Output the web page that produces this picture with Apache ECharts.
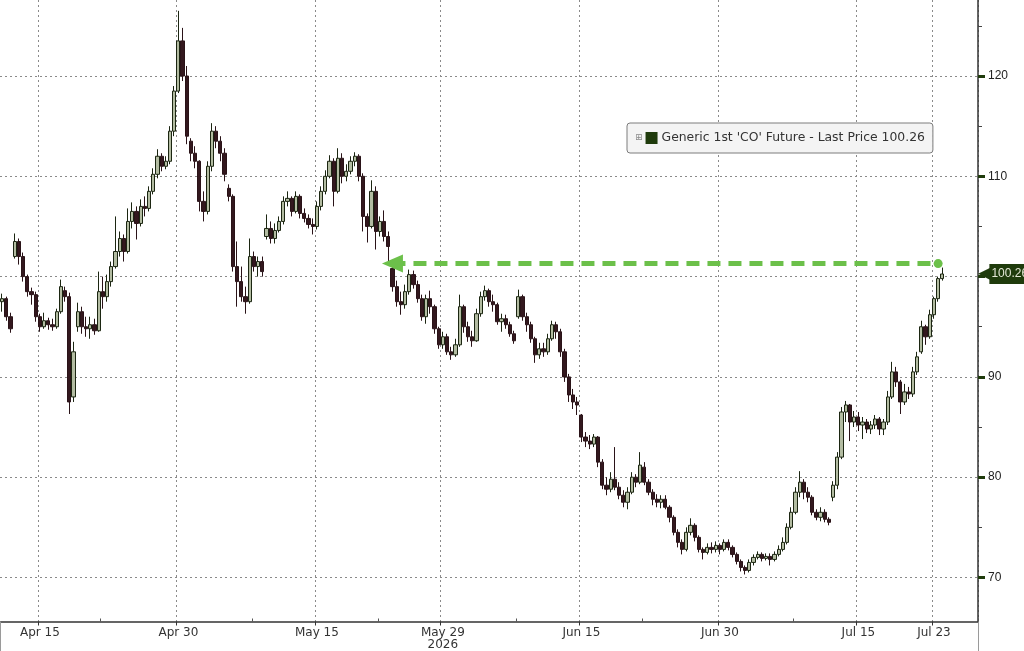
<!DOCTYPE html>
<html><head><meta charset="utf-8">
<script src="https://cdn.jsdelivr.net/npm/echarts@6/dist/echarts.min.js"></script>
<style>html,body{margin:0;padding:0;background:#fff}#c{width:1024px;height:651px}</style>
</head><body><div id="c"></div>
<script>
const seriesName = "Generic 1st 'CO' Future";
const aprDays = ['2026-04-10','2026-04-13','2026-04-14','2026-04-15','2026-04-16','2026-04-17','2026-04-20','2026-04-21','2026-04-22','2026-04-23','2026-04-24','2026-04-27','2026-04-28','2026-04-29','2026-04-30'];
const mayDays = ['2026-05-01','2026-05-04','2026-05-05','2026-05-06','2026-05-07','2026-05-08','2026-05-11','2026-05-12','2026-05-13','2026-05-14','2026-05-15','2026-05-18','2026-05-19','2026-05-20','2026-05-21','2026-05-22','2026-05-25','2026-05-26','2026-05-27','2026-05-28','2026-05-29'];
const junDays = ['2026-06-01','2026-06-02','2026-06-03','2026-06-04','2026-06-05','2026-06-08','2026-06-09','2026-06-10','2026-06-11','2026-06-12','2026-06-15','2026-06-16','2026-06-17','2026-06-18','2026-06-19','2026-06-22','2026-06-23','2026-06-24','2026-06-25','2026-06-26','2026-06-29','2026-06-30'];
const julDays = ['2026-07-01','2026-07-02','2026-07-03','2026-07-06','2026-07-07','2026-07-08','2026-07-09','2026-07-10','2026-07-13','2026-07-14','2026-07-15','2026-07-16','2026-07-17','2026-07-20','2026-07-21','2026-07-22','2026-07-23'];

// candles: [open, close, low, high], three per trading day
const aprBars = [
[97.5,97.8,96.5,98.3],[97.8,96,95.6,98],[96,94.8,94.4,96.4],
[102,103.5,101.8,104.3],[103.5,102,101.2,103.8],[102,100,99.5,102.4],
[100,98.5,98,100.2],[98.5,98.2,97.2,98.9],[98.2,96,95.5,98.5],
[96,95,94.5,96.3],[95,95.6,94.8,96.4],[95.6,95.2,94.7,95.9],
[95.2,95,94.6,95.8],[95,96.5,94.8,96.8],[96.5,99,96.3,99.7],
[98.6,98,97.5,99],[98,87.5,86.3,98.4],[88,92.5,87.5,93.5],
[95,96.5,94.5,97.4],[96.5,95,94.3,97],[95,94.8,94,96],
[94.8,95.2,93.8,96],[95.2,94.6,94.2,95.8],[94.6,98.5,94.5,100.5],
[98.5,98,96.8,100],[98,99.5,97.5,100.2],[99.5,101,99,101.5],
[101,102.5,100.8,106],[102.5,103.8,102,104.5],[103.8,102.5,101.5,104.2],
[102.5,105.5,102.3,106.8],[105.5,106.5,104.8,107.4],[106.5,105.3,103.7,107],
[105.3,107,105,107.7],[107,106.8,106,108],[106.8,108.5,106.5,109],
[108.5,110.2,108.2,110.8],[110.2,112,109.8,112.7],[112,111,110.5,112.3],
[111,111.5,110.7,112],[111.5,114.5,111.2,115],[114.5,118.5,114,119],
[118.5,123.5,118.3,126.5],[123.5,120,119.5,124.8],[120,114,113.2,121]
];
const mayBars = [
[113.5,112.3,111.5,113.8],[112.3,111.5,110.8,113],[111.5,107.5,106.5,111.6],
[107.5,106.5,105.5,108.5],[106.5,111,106.2,111.5],[111,114.5,110.5,115.3],
[114.5,113.5,112.8,115],[113.5,112.3,111.5,114],[112.3,110.2,109.5,112.8],
[108.8,108,107.5,109.2],[108,101,100.5,108.2],[101,99.5,97,103.5],
[99.5,98,97.5,101],[98,97.5,96.3,99],[97.5,102,97.3,103.8],
[102,101,100.5,102.5],[101,101.5,100,102],[101.5,100.5,100,102],
[104,104.8,103.7,106.2],[104.8,103.8,103.3,105.5],[103.8,104.6,103.3,105.3],
[104.6,105.5,104.4,106],[105.5,107.5,105.2,108],[107.5,107.8,107,108.5],
[107.8,106.5,106,108],[106.5,108,106.3,108.5],[108,106.3,105.8,108.2],
[106.3,105.8,105.4,106.8],[105.8,105.2,104.8,106.2],[105.2,105,104.2,105.8],
[105,107,104.7,107.5],[107,108.5,106.6,109],[108.5,110,108.2,110.6],
[110,111.5,109.8,112.1],[111.5,108.5,107,111.8],[108.5,111.8,108.3,112.8],
[111.8,110,109.3,112.3],[110,110.5,109.5,111.2],[110.5,111.5,110.2,112],
[111.5,112,111,112.4],[112,110,109.5,112.2],[110,106,104.5,110.3],
[106,105,103.4,106.3],[105,108.5,104.8,109.6],[108.5,104.5,102.7,109],
[104.5,105.5,104,106],[105.5,104,103.5,106.6],[104,103,101.5,104.5],
[100.8,99,98.5,101.2],[99,97.5,97,99.6],[97.5,97.2,96.2,98.5],
[97.2,98.5,96.8,99.2],[98.5,100.2,98.2,100.7],[100.2,99.2,98.8,100.6],
[99.2,97.8,97.4,99.6],[97.8,96,95.6,98.2],[96,97.8,95.3,98.2],
[97.8,97,96.3,98.6],[97,94.8,94.3,97.2],[94.8,93.2,92.8,95],
[93.2,94,92.8,94.5],[94,92.5,92.2,94.3],[92.5,92.2,91.7,93]
];
const junBars = [
[92.2,93.2,92,93.8],[93.2,97,93,98.2],[97,95,94.4,97.2],
[95,94,93.5,95.5],[94,93.6,93,94.6],[93.6,96.3,93.5,96.8],
[96.3,98,96,98.5],[98,98.6,97.6,99.1],[98.6,97.5,97,98.8],
[97.5,97.2,96.5,98.2],[97.2,95.5,95.2,97.4],[95.5,95.8,94.5,96.3],
[95.8,95.2,94.8,96.2],[95.2,94.3,94,95.5],[94.3,93.6,93.3,94.6],
[96,98,95.8,98.7],[98,96,95.6,98.2],[96,95.2,94.5,96.4],
[95.2,93.8,93.4,95.5],[93.8,92.2,91.4,94],[92.2,92.8,91.8,93.4],
[92.8,92.5,92,93.4],[92.5,93.8,92.2,94.3],[93.8,95.2,93.6,95.6],
[95.2,94.5,93.8,95.5],[94.5,92.5,92,94.8],[92.5,90,89.5,92.8],
[90,88.2,87.5,90.3],[88.2,87.5,86.8,88.8],[87.5,87.2,86.2,88],
[86.2,84,83.5,86.3],[84,83.6,83,84.5],[83.6,83.3,82.8,84.2],
[83.3,84,83,84.3],[84,81.5,81,84.1],[81.5,79.2,78.8,81.8],
[79.2,78.8,78.2,80],[78.8,79.8,78.5,80.5],[79.8,79,78.7,83],
[79,78.2,77.8,79.5],[78.2,77.5,77,78.7],[77.5,78.5,76.8,79],
[78.5,80,78.3,80.5],[80,79.5,79,80.3],[79.5,81.2,79.3,82.5],
[81,79.5,79.2,81.5],[79.5,78.5,78.2,79.8],[78.5,77.8,77.2,78.8],
[77.8,77.5,77,78.3],[77.5,77.8,76.9,78.2],[77.8,77,76.8,78.2],
[77,76,75.5,77.2],[76,74.5,74.2,76.2],[74.5,73.5,73,74.8],
[73.5,72.8,72.3,73.8],[72.8,74.5,72.6,75],[74.5,75.2,74.2,75.9],
[75.2,74,73.6,75.4],[74,72.8,72.5,74.2],[72.8,72.5,71.8,73],
[72.5,73,72.3,73.4],[73,72.8,72.4,73.5],[72.8,73.2,72.5,73.6],
[73.2,72.8,72.3,73.4],[72.8,73.5,72.6,73.8],[73.5,73,72.7,73.8]
];
const julBars = [
[73,72.3,72,73.2],[72.3,71.6,71.3,72.5],[71.6,71,70.6,71.8],
[71,70.7,70.3,71.2],[70.7,71.5,70.5,71.8],[71.5,72,71.2,72.3],
[72,72.3,71.8,72.6],[72.3,71.9,71.6,72.5],[71.9,72.1,71.7,72.4],
[72.1,71.8,71.2,72.4],[71.8,72.3,71.6,72.6],[72.3,72.8,72.1,73.2],
[72.8,73.5,72.6,74],[73.5,75,73.3,75.4],[75,76.5,74.8,77],
[76.5,78.5,76.3,79],[78.5,79.5,78,80.6],[79.5,78.5,77.8,79.8],
[78.5,78,77.5,79],[78,76.5,76.2,78.2],[76.5,76,75.7,76.8],
[76,76.5,75.6,77],[76.5,75.8,75.5,76.8],[75.8,75.5,75.2,76],
[78,79.2,77.6,79.6],[79.2,82,78.8,82.5],[82,86.5,81.8,87],
[86.5,87.2,85.5,87.6],[87.2,85.5,83.6,87.3],[85.5,86,85,86.6],
[86,85.2,84.6,86.5],[85.2,85.5,83.8,86],[85.5,84.8,84.4,85.8],
[84.8,85.2,84.3,85.6],[85.2,85.8,84.8,86.2],[85.8,84.8,84.2,86],
[84.8,85.5,84.2,85.8],[85.5,88,85.2,88.6],[88,90.5,87.8,91.5],
[90.5,89.5,89,91],[89.5,87.5,86.3,89.7],[87.5,88.5,87.2,89.3],
[88.5,88.3,87.8,89],[88.3,90.5,88,91],[90.5,92,90.2,92.5],
[92.5,95,92.3,95.6],[95,94,93.2,95.2],[94,96.2,93.8,96.7],
[96.2,97.8,95.8,98],[97.8,99.8,97.5,100],[99.8,100.26,99.6,100.9]
];

const tickDays = ['2026-04-15','2026-04-30','2026-05-15','2026-05-29','2026-06-15','2026-06-30','2026-07-15','2026-07-23'];
const tickLabels = ['Apr 15','Apr 30','May 15','May 29','Jun 15','Jun 30','Jul 15','Jul 23'];
const yearDay = '2026-05-29';
const yearLabel = '2026';
const minorTickDays = ['2026-04-22','2026-05-08','2026-05-22','2026-06-08','2026-06-22','2026-07-08'];
const todayDay = '2026-07-23';
const yLabelValues = [70, 80, 90, 110, 120];
const yGridValues = [70, 80, 90, 100, 110, 120];
const yMinorValues = [75, 85, 95, 105, 115, 125];
const yMin = 65.61, yMax = 127.58;
const arrowLevel = 101.3;
const arrowFrom = ['2026-05-25', 0];
const arrowTo = ['2026-07-23', 1];
const barsPerDay = 3;
const emptySlots = 8;

const days = aprDays.concat(mayDays, junDays, julDays);
const bars = aprBars.concat(mayBars, junBars, julBars);
const cats = [];
days.forEach(d => { for (let k = 0; k < barsPerDay; k++) cats.push(d + '#' + k); });
for (let i = 0; i < emptySlots; i++) cats.push('pad' + i);
const catName = (d, k) => d + '#' + (k || 0);
const idxOf = (d, k) => cats.indexOf(catName(d, k));
const labelByName = {};
tickDays.forEach((d, i) => { labelByName[catName(d)] = tickLabels[i] + (d === yearDay ? '\n' + yearLabel : ''); });
const labelIdx = new Set(tickDays.map(d => idxOf(d)));
const minorIdx = new Set(minorTickDays.map(d => idxOf(d)));
const todayIdx = idxOf(todayDay);
const lastClose = bars[bars.length - 1][1];

const FONT = 'Liberation Sans';
const XFONT = 'DejaVu Sans';
const gridLineStyle = { color: '#8a8a8a', width: 1, type: [2, 3] };
const darkGreen = '#1f3b0c';
const arrowGreen = '#6cc04a';

const chart = echarts.init(document.getElementById('c'));
chart.setOption({
  animation: false,
  backgroundColor: '#ffffff',
  textStyle: { fontFamily: FONT },
  grid: { left: 0, right: 46, top: 0, bottom: 29.5, containLabel: false, outerBoundsMode: 'none' },
  legend: {
    left: 627, top: 123,
    data: [{ name: seriesName, icon: 'none' }],
    itemWidth: 0, itemHeight: 12,
    backgroundColor: '#f4f4f4', borderColor: '#7c7c7c', borderWidth: 1, borderRadius: 3,
    padding: [9, 8, 9, 3],
    selectedMode: false,
    formatter: name => '{p|⊞}{s| }{t|' + name + ' - Last Price ' + lastClose.toFixed(2) + '}',
    textStyle: {
      rich: {
        p: { fontSize: 9, color: '#8a8a8a', fontFamily: 'DejaVu Sans', padding: [0, 3, 0, 0] },
        s: { width: 12, height: 12, backgroundColor: darkGreen },
        t: { fontSize: 12.4, color: '#333', fontFamily: XFONT, padding: [0, 0, 0, 4] }
      }
    }
  },
  xAxis: [
    {
      type: 'category', data: cats, position: 'bottom', boundaryGap: true,
      axisLine: { show: true, lineStyle: { color: '#333', width: 1.5 } },
      axisTick: { show: true, interval: i => labelIdx.has(i), length: 4, lineStyle: { color: '#333' } },
      axisLabel: {
        show: true, interval: i => labelIdx.has(i), formatter: v => labelByName[v] || '',
        fontSize: 12, color: '#333', margin: 5, lineHeight: 12.5, fontFamily: XFONT
      },
      splitLine: { show: true, interval: i => labelIdx.has(i), lineStyle: gridLineStyle }
    },
    {
      type: 'category', data: cats, position: 'bottom', boundaryGap: true,
      axisLine: { show: false }, axisLabel: { show: false }, splitLine: { show: false },
      axisTick: { show: true, inside: true, length: 3, interval: i => minorIdx.has(i), lineStyle: { color: '#555' } }
    },
    {
      type: 'category', data: cats, position: 'bottom', boundaryGap: true,
      axisLine: { show: false }, axisLabel: { show: false }, splitLine: { show: false },
      axisTick: { show: true, length: 30, interval: i => i === todayIdx, lineStyle: { color: '#9a9a9a' } }
    }
  ],
  yAxis: [
    {
      type: 'value', position: 'right', min: yMin, max: yMax, scale: true,
      axisLine: { show: true, lineStyle: { color: '#333', width: 1.5 } },
      axisTick: { show: true, customValues: yGridValues, length: 7, lineStyle: { color: darkGreen, width: 3 } },
      axisLabel: { show: true, customValues: yLabelValues, fontSize: 12, color: '#222', margin: 10, fontFamily: FONT },
      splitLine: { show: true, lineStyle: gridLineStyle }
    },
    {
      type: 'value', position: 'right', min: yMin, max: yMax, scale: true,
      axisLine: { show: false }, axisLabel: { show: false }, splitLine: { show: false },
      axisTick: { show: true, customValues: yMinorValues, length: 4, lineStyle: { color: '#444', width: 1 } }
    }
  ],
  series: [{
    type: 'candlestick', name: seriesName, data: bars,
    xAxisIndex: 0, yAxisIndex: 0, barWidth: '88%',
    itemStyle: {
      color: '#b3bca2', color0: '#33181e',
      borderColor: '#1c2612', borderColor0: '#2a1318', borderWidth: 1
    },
    markLine: {
      silent: true, animation: false, symbol: ['none', 'none'],
      label: { show: false },
      data: [
        [
          { coord: [catName(arrowFrom[0], arrowFrom[1]), arrowLevel], symbol: 'triangle', symbolSize: [18, 21],
            lineStyle: { color: arrowGreen, width: 5, type: [13, 8] }, itemStyle: { color: arrowGreen } },
          { coord: [catName(arrowTo[0], arrowTo[1]), arrowLevel], symbol: 'circle', symbolSize: 9, itemStyle: { color: arrowGreen } }
        ],
        {
          yAxis: lastClose, symbol: 'none',
          lineStyle: { color: 'rgba(0,0,0,0)', width: 1 },
          label: {
            show: true, position: 'end', distance: 0,
            formatter: () => '{a|◀}{b|' + lastClose.toFixed(2) + '}',
            rich: {
              a: { fontSize: 20, lineHeight: 20, color: darkGreen, fontFamily: 'DejaVu Sans', padding: [0, -4, 0, 0] },
              b: { fontSize: 12, color: '#e4e8d6', backgroundColor: darkGreen, padding: [4, 3, 4, 2], fontFamily: FONT }
            }
          }
        }
      ]
    }
  }]
});
</script>
</body></html>
